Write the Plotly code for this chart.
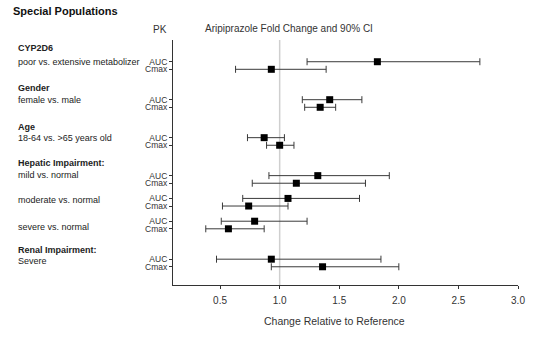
import plotly.graph_objects as go

# ---- data ----
group_titles = ["CYP2D6", "Gender", "Age", "Hepatic Impairment:", "", "", "Renal Impairment:"]
comparisons = ["poor vs. extensive metabolizer", "female vs. male", "18-64 vs. >65 years old",
               "mild vs. normal", "moderate vs. normal", "severe vs. normal", "Severe"]
auc_est = [1.82, 1.42, 0.87, 1.32, 1.07, 0.79, 0.93]
auc_lo = [1.23, 1.19, 0.73, 0.91, 0.69, 0.51, 0.47]
auc_hi = [2.68, 1.69, 1.04, 1.92, 1.67, 1.23, 1.85]
cmax_est = [0.93, 1.34, 1.00, 1.14, 0.74, 0.57, 1.36]
cmax_lo = [0.63, 1.21, 0.89, 0.77, 0.52, 0.38, 0.93]
cmax_hi = [1.39, 1.47, 1.12, 1.72, 1.07, 0.87, 2.00]
pk_labels = ["AUC", "Cmax"]
x_ticks = [0.5, 1.0, 1.5, 2.0, 2.5, 3.0]
x_ticktext = ["0.5", "1.0", "1.5", "2.0", "2.5", "3.0"]

# ---- layout positions (row slots) ----
auc_rows = [0, 5, 10, 15, 18, 21, 26]
cmax_rows = [r + 1 for r in auc_rows]
title_rows = [-1.8, 3.45, 8.55, 13.4, None, None, 24.8]
comp_rows = [0.1, 5.05, 10.0, 14.9, 18.2, 21.7, 26.3]

FONT = "Arial, Liberation Sans, sans-serif"

fig = go.Figure()

# reference line at 1.0
fig.add_shape(type="line", x0=1.0, x1=1.0, xref="x", y0=0, y1=1, yref="paper",
              line=dict(color="#cfcfcf", width=1.5), layer="below")

for est, lo, hi, rows in [(auc_est, auc_lo, auc_hi, auc_rows),
                          (cmax_est, cmax_lo, cmax_hi, cmax_rows)]:
    fig.add_trace(go.Scatter(
        x=est, y=rows, mode="markers",
        marker=dict(symbol="square", size=7, color="black"),
        error_x=dict(type="data", symmetric=False,
                     array=[h - e for h, e in zip(hi, est)],
                     arrayminus=[e - l for e, l in zip(est, lo)],
                     color="#3a3a3a", thickness=1, width=3.5),
        showlegend=False, hoverinfo="skip"))

tickvals = []
ticktext = []
for a, c in zip(auc_rows, cmax_rows):
    tickvals += [a, c]
    ticktext += pk_labels

fig.update_layout(
    width=537, height=346,
    margin=dict(l=173, r=16, t=40, b=61),
    paper_bgcolor="white", plot_bgcolor="white",
    font=dict(family=FONT, color="#222"),
    xaxis=dict(range=[0.105, 3.0], tickvals=x_ticks, ticktext=x_ticktext,
               showgrid=False, zeroline=False, showline=True, linecolor="#333", linewidth=1,
               ticks="outside", ticklen=3, tickcolor="#333", ticklabelstandoff=3,
               tickfont=dict(size=10, color="#333", family=FONT)),
    yaxis=dict(range=[29.4, -2.86], tickvals=tickvals, ticktext=ticktext,
               showgrid=False, zeroline=False, showline=True, linecolor="#333", linewidth=1,
               ticks="outside", ticklen=3, tickcolor="#333",
               tickfont=dict(size=8.5, color="#333", family=FONT)),
)

ann = []
for t, tr in zip(group_titles, title_rows):
    if t:
        ann.append(dict(text="<b>" + t + "</b>", xref="paper", x=-0.455, yref="y", y=tr,
                        xanchor="left", yanchor="middle", showarrow=False,
                        font=dict(size=9, color="#222", family=FONT)))
for t, cr in zip(comparisons, comp_rows):
    ann.append(dict(text=t, xref="paper", x=-0.455, yref="y", y=cr,
                    xanchor="left", yanchor="middle", showarrow=False,
                    font=dict(size=9, color="#222", family=FONT)))
fig.update_layout(annotations=ann)

fig.add_annotation(text="<b>Special Populations</b>", xref="paper", yref="paper",
                   x=(10 - 173) / 348, y=1 + (40 - 11) / 245, xanchor="left", yanchor="middle",
                   showarrow=False, font=dict(size=11, color="#111", family=FONT))
fig.add_annotation(text="PK", xref="paper", yref="paper",
                   x=(159.5 - 173) / 348, y=1 + (40 - 30) / 245, xanchor="center", yanchor="middle",
                   showarrow=False, font=dict(size=10, color="#333", family=FONT))
fig.add_annotation(text="Aripiprazole Fold Change and 90% CI", xref="paper", yref="paper",
                   x=(290 - 173) / 348, y=1 + (40 - 28.5) / 245, xanchor="center", yanchor="middle",
                   showarrow=False, font=dict(size=10, color="#333", family=FONT))
fig.add_annotation(text="Change Relative to Reference", xref="paper", yref="paper",
                   x=(336 - 173) / 348, y=-(320.7 - 285) / 245, xanchor="center", yanchor="middle",
                   showarrow=False, font=dict(size=10.5, color="#333", family=FONT))

fig.write_html("out.html")
